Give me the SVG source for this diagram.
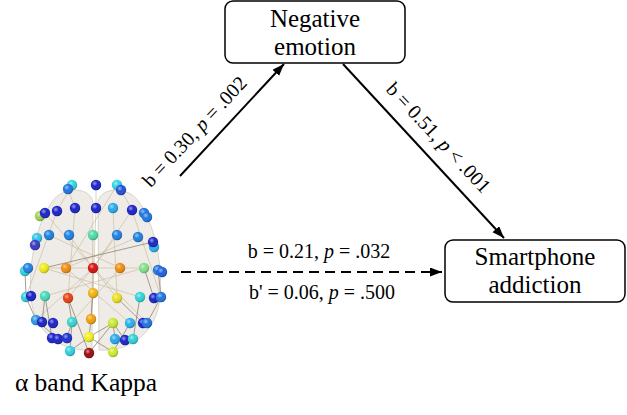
<svg xmlns="http://www.w3.org/2000/svg" width="627" height="415" viewBox="0 0 627 415">
<style>
.box{fill:#fff;stroke:#000;stroke-width:1.5}
.t{font-family:"Liberation Serif","Times New Roman",serif;fill:#000}
.bt{font-size:25px}
.lt{font-size:20px}
.edge{stroke:#000;stroke-width:2;fill:none}
.e1{stroke:#cdbfa4;stroke-width:1;opacity:.7}
.e2{stroke:#857a68;stroke-width:.9;opacity:.8}
.hemi{fill:#e4e0d8;fill-opacity:.6;stroke:#c4beb2;stroke-opacity:.6;stroke-width:1}
.sh{fill:url(#shine)}
</style>
<defs>
<marker id="ah" markerUnits="userSpaceOnUse" markerWidth="13" markerHeight="10" refX="12" refY="4.5" orient="auto">
<path d="M0,0 L12,4.5 L0,9 z" fill="#000"/>
</marker>
<radialGradient id="shine" cx="38%" cy="35%" r="65%">
<stop offset="0" stop-color="#fff" stop-opacity=".55"/>
<stop offset=".45" stop-color="#fff" stop-opacity="0"/>
<stop offset="1" stop-color="#000" stop-opacity=".25"/>
</radialGradient>
</defs>

<g id="connectors">
<line class="edge" x1="180" y1="176" x2="284" y2="64" marker-end="url(#ah)"/>
<line class="edge" x1="343" y1="64" x2="504" y2="238" marker-end="url(#ah)"/>
<line class="edge" x1="181" y1="272" x2="442" y2="272" stroke-dasharray="10,6" marker-end="url(#ah)"/>
<text class="t lt" transform="translate(195,132) rotate(-47)" text-anchor="middle" y="6">b = 0.30, <tspan font-style="italic">p</tspan> = .002</text>
<text class="t lt" transform="translate(438,138) rotate(47)" text-anchor="middle" y="6">b = 0.51, <tspan font-style="italic">p</tspan> &lt; .001</text>
<text class="t lt" x="319" y="258" text-anchor="middle" font-size="22">b = 0.21, <tspan font-style="italic">p</tspan> = .032</text>
<text class="t lt" x="322" y="299" text-anchor="middle" font-size="22">b' = 0.06, <tspan font-style="italic">p</tspan> = .500</text>
</g>

<g id="negative-emotion">
<rect class="box" x="225" y="1" width="180" height="62" rx="8"/>
<text class="t bt" x="315" y="27" text-anchor="middle">Negative</text>
<text class="t bt" x="315" y="55" text-anchor="middle">emotion</text>
</g>

<g id="smartphone-addiction">
<rect class="box" x="445" y="240" width="180" height="62" rx="8"/>
<text class="t bt" x="535" y="265" text-anchor="middle">Smartphone</text>
<text class="t bt" x="535" y="293" text-anchor="middle">addiction</text>
</g>

<g id="alpha-band-kappa">
<path class="hemi" d="M93,202 C90,186 62,186 52,202 C38,222 28,258 31,298 C34,330 58,352 92,350 Z"/>
<path class="hemi" d="M98,202 C101,186 129,186 139,202 C153,222 163,258 160,298 C157,330 133,352 99,350 Z"/>
<g>
<line class="e1" x1="93" y1="268" x2="45" y2="213"/>
<line class="e1" x1="93" y1="268" x2="132" y2="210"/>
<line class="e1" x1="93" y1="268" x2="69" y2="235"/>
<line class="e1" x1="93" y1="268" x2="117" y2="235"/>
<line class="e1" x1="93" y1="268" x2="44" y2="268"/>
<line class="e1" x1="93" y1="268" x2="144" y2="268"/>
<line class="e1" x1="93" y1="268" x2="68" y2="298"/>
<line class="e1" x1="93" y1="268" x2="117" y2="298"/>
<line class="e1" x1="93" y1="268" x2="91" y2="319"/>
<line class="e1" x1="93" y1="268" x2="36" y2="320"/>
<line class="e1" x1="93" y1="268" x2="147" y2="323"/>
<line class="e1" x1="66" y1="268" x2="117" y2="185"/>
<line class="e1" x1="96" y1="208" x2="93" y2="293"/>
<line class="e1" x1="75" y1="208" x2="68" y2="298"/>
<line class="e1" x1="113" y1="208" x2="117" y2="298"/>
<line class="e1" x1="57" y1="211" x2="26" y2="297"/>
<line class="e1" x1="132" y1="210" x2="161" y2="297"/>
<line class="e1" x1="49" y1="235" x2="120" y2="268"/>
<line class="e1" x1="138" y1="237" x2="66" y2="268"/>
<line class="e1" x1="44" y1="268" x2="140" y2="297"/>
<line class="e1" x1="144" y1="268" x2="45" y2="296"/>
<line class="e1" x1="93" y1="235" x2="93" y2="293"/>
<line class="e1" x1="72" y1="185" x2="57" y2="211"/>
<line class="e1" x1="121" y1="190" x2="132" y2="210"/>
<line class="e1" x1="96" y1="185" x2="96" y2="208"/>
<line class="e1" x1="68" y1="189" x2="75" y2="208"/>
<line class="e1" x1="120" y1="268" x2="72" y2="322"/>
<line class="e1" x1="66" y1="268" x2="130" y2="323"/>
<line class="e2" x1="44" y1="268" x2="153" y2="242"/>
<line class="e2" x1="89" y1="337" x2="113" y2="323"/>
<line class="e2" x1="89" y1="353" x2="113" y2="323"/>
<line class="e2" x1="89" y1="353" x2="68" y2="298"/>
<line class="e2" x1="113" y1="352" x2="130" y2="323"/>
<line class="e2" x1="113" y1="352" x2="89" y2="337"/>
<line class="e2" x1="70" y1="351" x2="72" y2="322"/>
<line class="e2" x1="70" y1="351" x2="89" y2="337"/>
<line class="e2" x1="52" y1="338" x2="45" y2="296"/>
<line class="e2" x1="58" y1="339" x2="36" y2="320"/>
<line class="e2" x1="67" y1="338" x2="72" y2="322"/>
<line class="e2" x1="133" y1="339" x2="140" y2="297"/>
<line class="e2" x1="125" y1="340" x2="113" y2="323"/>
<line class="e2" x1="143" y1="323" x2="117" y2="298"/>
<line class="e2" x1="147" y1="323" x2="161" y2="297"/>
<line class="e2" x1="42" y1="322" x2="45" y2="296"/>
<line class="e2" x1="36" y1="320" x2="26" y2="297"/>
<line class="e2" x1="154" y1="298" x2="144" y2="268"/>
<line class="e2" x1="91" y1="319" x2="89" y2="337"/>
<line class="e2" x1="93" y1="293" x2="91" y2="319"/>
<line class="e2" x1="113" y1="323" x2="115" y2="339"/>
<line class="e2" x1="72" y1="322" x2="68" y2="298"/>
<line class="e2" x1="161" y1="297" x2="158" y2="270"/>
<line class="e2" x1="26" y1="297" x2="25" y2="270"/>
</g>
<g stroke="none">
<circle cx="72" cy="185" r="5.2" fill="#30d4e0"/><circle class="sh" cx="72" cy="185" r="5.2"/>
<circle cx="68" cy="189" r="5.2" fill="#1e74e0"/><circle class="sh" cx="68" cy="189" r="5.2"/>
<circle cx="96" cy="185" r="5.2" fill="#1a22c8"/><circle class="sh" cx="96" cy="185" r="5.2"/>
<circle cx="117" cy="185" r="5.2" fill="#30d4e0"/><circle class="sh" cx="117" cy="185" r="5.2"/>
<circle cx="121" cy="190" r="5.2" fill="#1e50d8"/><circle class="sh" cx="121" cy="190" r="5.2"/>
<circle cx="40" cy="216" r="5.2" fill="#a0d050"/><circle class="sh" cx="40" cy="216" r="5.2"/>
<circle cx="45" cy="213" r="5.2" fill="#1a22c8"/><circle class="sh" cx="45" cy="213" r="5.2"/>
<circle cx="57" cy="211" r="5.2" fill="#1a22c8"/><circle class="sh" cx="57" cy="211" r="5.2"/>
<circle cx="75" cy="208" r="5.2" fill="#1a22c8"/><circle class="sh" cx="75" cy="208" r="5.2"/>
<circle cx="96" cy="208" r="5.2" fill="#1a22c8"/><circle class="sh" cx="96" cy="208" r="5.2"/>
<circle cx="113" cy="208" r="5.2" fill="#28a8ec"/><circle class="sh" cx="113" cy="208" r="5.2"/>
<circle cx="132" cy="210" r="5.2" fill="#1a22c8"/><circle class="sh" cx="132" cy="210" r="5.2"/>
<circle cx="144" cy="213" r="5.2" fill="#1e74e0"/><circle class="sh" cx="144" cy="213" r="5.2"/>
<circle cx="147" cy="217" r="5.2" fill="#1e74e0"/><circle class="sh" cx="147" cy="217" r="5.2"/>
<circle cx="37" cy="238" r="5.2" fill="#30c4e8"/><circle class="sh" cx="37" cy="238" r="5.2"/>
<circle cx="35" cy="245" r="5.2" fill="#3838c0"/><circle class="sh" cx="35" cy="245" r="5.2"/>
<circle cx="49" cy="235" r="5.2" fill="#1e80e0"/><circle class="sh" cx="49" cy="235" r="5.2"/>
<circle cx="69" cy="235" r="5.2" fill="#1e80e0"/><circle class="sh" cx="69" cy="235" r="5.2"/>
<circle cx="93" cy="235" r="5.2" fill="#50d8a8"/><circle class="sh" cx="93" cy="235" r="5.2"/>
<circle cx="117" cy="235" r="5.2" fill="#1e80e0"/><circle class="sh" cx="117" cy="235" r="5.2"/>
<circle cx="138" cy="237" r="5.2" fill="#1e80e0"/><circle class="sh" cx="138" cy="237" r="5.2"/>
<circle cx="154" cy="247" r="5.2" fill="#28b0ec"/><circle class="sh" cx="154" cy="247" r="5.2"/>
<circle cx="153" cy="242" r="5.2" fill="#1a28c0"/><circle class="sh" cx="153" cy="242" r="5.2"/>
<circle cx="25" cy="271" r="5.2" fill="#30d0d8"/><circle class="sh" cx="25" cy="271" r="5.2"/>
<circle cx="28" cy="268" r="5.2" fill="#1e80e0"/><circle class="sh" cx="28" cy="268" r="5.2"/>
<circle cx="44" cy="268" r="5.2" fill="#f0e818"/><circle class="sh" cx="44" cy="268" r="5.2"/>
<circle cx="66" cy="268" r="5.2" fill="#f08c10"/><circle class="sh" cx="66" cy="268" r="5.2"/>
<circle cx="93" cy="268" r="5.2" fill="#d81010"/><circle class="sh" cx="93" cy="268" r="5.2"/>
<circle cx="120" cy="268" r="5.2" fill="#f08c10"/><circle class="sh" cx="120" cy="268" r="5.2"/>
<circle cx="144" cy="268" r="5.2" fill="#80e088"/><circle class="sh" cx="144" cy="268" r="5.2"/>
<circle cx="158" cy="270" r="5.2" fill="#1e74e0"/><circle class="sh" cx="158" cy="270" r="5.2"/>
<circle cx="162" cy="272" r="5.2" fill="#1e60e0"/><circle class="sh" cx="162" cy="272" r="5.2"/>
<circle cx="26" cy="297" r="5.2" fill="#30d0d8"/><circle class="sh" cx="26" cy="297" r="5.2"/>
<circle cx="31" cy="296" r="5.2" fill="#1a22c8"/><circle class="sh" cx="31" cy="296" r="5.2"/>
<circle cx="45" cy="296" r="5.2" fill="#48d8b8"/><circle class="sh" cx="45" cy="296" r="5.2"/>
<circle cx="68" cy="298" r="5.2" fill="#e84010"/><circle class="sh" cx="68" cy="298" r="5.2"/>
<circle cx="93" cy="293" r="5.2" fill="#f0b410"/><circle class="sh" cx="93" cy="293" r="5.2"/>
<circle cx="117" cy="298" r="5.2" fill="#e8e020"/><circle class="sh" cx="117" cy="298" r="5.2"/>
<circle cx="140" cy="297" r="5.2" fill="#30d4d8"/><circle class="sh" cx="140" cy="297" r="5.2"/>
<circle cx="154" cy="298" r="5.2" fill="#1a22c8"/><circle class="sh" cx="154" cy="298" r="5.2"/>
<circle cx="161" cy="297" r="5.2" fill="#1e74e0"/><circle class="sh" cx="161" cy="297" r="5.2"/>
<circle cx="36" cy="320" r="5.2" fill="#2898e0"/><circle class="sh" cx="36" cy="320" r="5.2"/>
<circle cx="42" cy="322" r="5.2" fill="#1a22c8"/><circle class="sh" cx="42" cy="322" r="5.2"/>
<circle cx="53" cy="323" r="5.2" fill="#1a22c8"/><circle class="sh" cx="53" cy="323" r="5.2"/>
<circle cx="72" cy="322" r="5.2" fill="#38d4d0"/><circle class="sh" cx="72" cy="322" r="5.2"/>
<circle cx="91" cy="319" r="5.2" fill="#f0a010"/><circle class="sh" cx="91" cy="319" r="5.2"/>
<circle cx="113" cy="323" r="5.2" fill="#c8e830"/><circle class="sh" cx="113" cy="323" r="5.2"/>
<circle cx="130" cy="323" r="5.2" fill="#28b0ec"/><circle class="sh" cx="130" cy="323" r="5.2"/>
<circle cx="143" cy="323" r="5.2" fill="#1a22c8"/><circle class="sh" cx="143" cy="323" r="5.2"/>
<circle cx="147" cy="323" r="5.2" fill="#1e74e0"/><circle class="sh" cx="147" cy="323" r="5.2"/>
<circle cx="52" cy="338" r="5.2" fill="#1a22c8"/><circle class="sh" cx="52" cy="338" r="5.2"/>
<circle cx="58" cy="339" r="5.2" fill="#1a22c8"/><circle class="sh" cx="58" cy="339" r="5.2"/>
<circle cx="67" cy="338" r="5.2" fill="#1a30d0"/><circle class="sh" cx="67" cy="338" r="5.2"/>
<circle cx="89" cy="337" r="5.2" fill="#f0f020"/><circle class="sh" cx="89" cy="337" r="5.2"/>
<circle cx="115" cy="339" r="5.2" fill="#28a8ec"/><circle class="sh" cx="115" cy="339" r="5.2"/>
<circle cx="125" cy="340" r="5.2" fill="#1a22c8"/><circle class="sh" cx="125" cy="340" r="5.2"/>
<circle cx="133" cy="339" r="5.2" fill="#30d0d8"/><circle class="sh" cx="133" cy="339" r="5.2"/>
<circle cx="70" cy="351" r="5.2" fill="#30d0e0"/><circle class="sh" cx="70" cy="351" r="5.2"/>
<circle cx="89" cy="353" r="5.2" fill="#9a0c0c"/><circle class="sh" cx="89" cy="353" r="5.2"/>
<circle cx="113" cy="352" r="5.2" fill="#d0e830"/><circle class="sh" cx="113" cy="352" r="5.2"/>
</g>
<text class="t" x="86" y="391" text-anchor="middle" font-size="25.5">α band Kappa</text>
</g>
</svg>
